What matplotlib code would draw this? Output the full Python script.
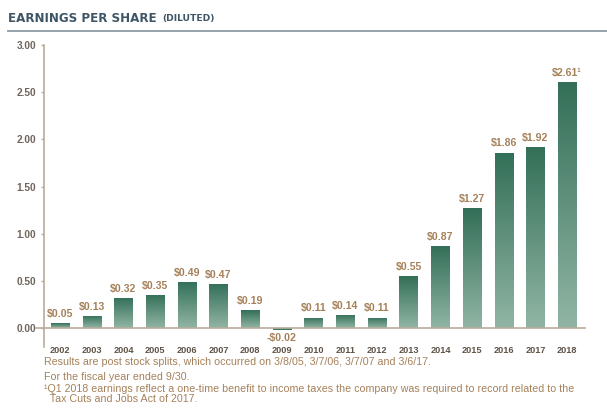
import numpy as np
import matplotlib
matplotlib.use('Agg')
import matplotlib.pyplot as plt
from matplotlib.colors import LinearSegmentedColormap

years = ['2002', '2003', '2004', '2005', '2006', '2007', '2008', '2009', '2010',
         '2011', '2012', '2013', '2014', '2015', '2016', '2017', '2018']
eps = [0.05, 0.13, 0.32, 0.35, 0.49, 0.47, 0.19, -0.02, 0.11,
       0.14, 0.11, 0.55, 0.87, 1.27, 1.86, 1.92, 2.61]
labels = ['$0.05', '$0.13', '$0.32', '$0.35', '$0.49', '$0.47', '$0.19', '-$0.02', '$0.11',
          '$0.14', '$0.11', '$0.55', '$0.87', '$1.27', '$1.86', '$1.92', '$2.61\u00b9']
yticks = [0.0, 0.5, 1.0, 1.5, 2.0, 2.5, 3.0]

notes = [
    'Results are post stock splits, which occurred on 3/8/05, 3/7/06, 3/7/07 and 3/6/17.',
    'For the fiscal year ended 9/30.',
    '\u00b9Q1 2018 earnings reflect a one-time benefit to income taxes the company was required to record related to the',
    '  Tax Cuts and Jobs Act of 2017.',
]

plt.rcParams['font.family'] = ['Liberation Sans', 'DejaVu Sans']

TAN = '#a5815a'
AXIS = '#b9ab9a'
TICKTXT = '#6f655b'
TITLE = '#3e5566'

fig = plt.figure(figsize=(6.07, 4.11), dpi=100)
ax = fig.add_axes([44 / 607, (411 - 347) / 411, 546 / 607, (347 - 45) / 411])

x = np.arange(len(years))
bars = ax.bar(x, eps, width=0.58, color='none', edgecolor='none', zorder=2)

cmap = LinearSegmentedColormap.from_list('g', ['#91b5a5', '#336f58'])
cmap_neg = LinearSegmentedColormap.from_list('n', ['#336f58', '#4f8a72'])
grad = np.linspace(0, 1, 256).reshape(-1, 1)
for b, v in zip(bars, eps):
    x0, w = b.get_x(), b.get_width()
    y0, y1 = min(0, v), max(0, v)
    im = ax.imshow(grad, cmap=cmap if v >= 0 else cmap_neg, aspect='auto',
                   origin='lower', extent=[x0, x0 + w, y0, y1], zorder=2,
                   vmin=0, vmax=1)
    im.set_clip_path(b)

for xi, v, lab in zip(x, eps, labels):
    if v >= 0:
        ax.text(xi, v + 0.045, lab, ha='center', va='bottom', fontsize=7.6,
                color=TAN, fontweight='bold')
    else:
        ax.text(xi, v - 0.035, lab, ha='center', va='top', fontsize=7.6,
                color=TAN, fontweight='bold')

ax.set_xlim(-0.505, 16.72)
ax.set_ylim(-0.2, 3.0)
ax.axhline(0, xmin=-0.015, xmax=0.99, color=AXIS, lw=1.2, clip_on=False, zorder=3)

for s in ['top', 'right', 'bottom']:
    ax.spines[s].set_visible(False)
ax.spines['left'].set_color(AXIS)
ax.spines['left'].set_linewidth(1.2)

ax.set_yticks(yticks)
ax.set_yticklabels([f'{t:.2f}' for t in yticks])
ax.tick_params(axis='y', length=2.5, width=1, color=AXIS, labelcolor=TICKTXT,
               labelsize=7.3, pad=3)
for t in ax.get_yticklabels():
    t.set_fontweight('bold')

ax.set_xticks(x)
ax.set_xticklabels(years)
ax.tick_params(axis='x', length=0, labelsize=6.6, labelcolor='#5e5348', pad=-1)
for t in ax.get_xticklabels():
    t.set_fontweight('bold')

# title and rule
ty = 1 - 18 / 411
t1 = fig.text(8 / 607, ty, 'EARNINGS PER SHARE ', fontsize=8.6, fontweight='bold',
              color=TITLE, va='center', ha='left', family=['DejaVu Sans'])
r = fig.canvas.get_renderer()
bb = t1.get_window_extent(r)
fig.text(bb.x1 / 607 + 0.002, ty - 0.002, '(DILUTED)', fontsize=6.6, fontweight='bold',
         color=TITLE, va='center', ha='left', family=['DejaVu Sans'])
fig.add_artist(plt.Line2D([8 / 607, 1], [1 - 31 / 411] * 2, color='#8c9ba6', lw=1.3))

# footnotes
ys = [362, 377, 389, 399]
for yy, note in zip(ys, notes):
    fig.text(44 / 607, 1 - yy / 411, note, fontsize=7.7, color=TAN, va='center', ha='left')

fig.savefig('out.png', dpi=100, facecolor='white')
